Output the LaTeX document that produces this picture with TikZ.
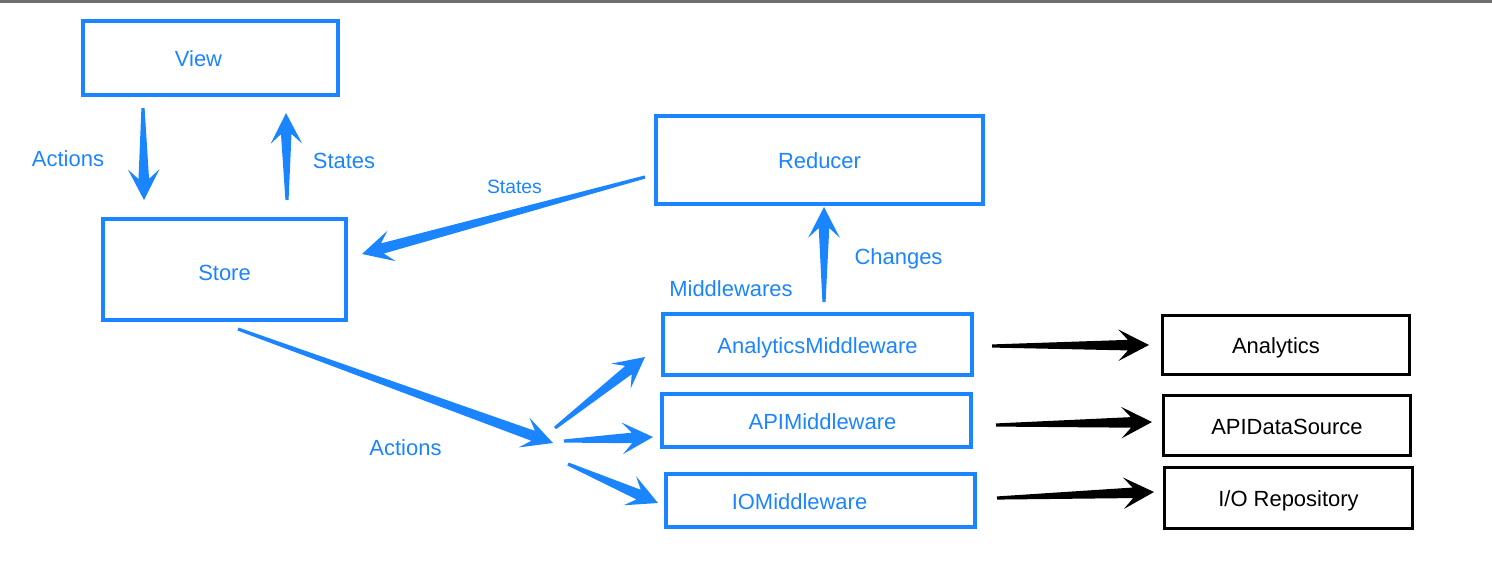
\documentclass[tikz,border=0pt]{standalone}
\usepackage{fontspec}
\setmainfont{Liberation Sans}
\usepackage{tikz}
\usetikzlibrary{calc,positioning}

\definecolor{keyblue}{RGB}{27,133,255}
\definecolor{topgray}{RGB}{110,110,110}

\tikzset{
	bluebox/.style={draw=keyblue, line width=2pt, text=keyblue, minimum width=6.19cm, minimum height=1.07cm, text height=1em, text depth=0pt},
	blackbox/.style={draw=black, line width=1.7pt, text=black, minimum width=4.95cm, minimum height=1.2cm, text height=1em, text depth=0pt},
	flowlabel/.style={text=keyblue, anchor=base}
}

% tapered arrow: thin tail, swept head
\newcommand{\fatarrow}[3][keyblue]{%
	\coordinate (fa-notch) at ($(#3)!12pt!(#2)$);
	\coordinate (fa-wing) at ($(#3)!17.5pt!(#2)$);
	\fill[#1] ($(#2)!0.9pt!90:(#3)$) -- ($(fa-notch)!3pt!90:(#3)$) -- ($(fa-wing)!9pt!90:(#3)$) -- (#3)
		-- ($(fa-wing)!9pt!-90:(#3)$) -- ($(fa-notch)!3pt!-90:(#3)$) -- ($(#2)!0.9pt!-90:(#3)$) -- cycle;
}

\begin{document}
\begin{tikzpicture}[x=0.02cm, y=-0.02cm, font=\fontsize{12.5}{15}\selectfont]
	\useasboundingbox (0,0) rectangle (1492,568);
	\fill[topgray] (0,0) rectangle (1492,3);

	\node[bluebox, minimum width=5.1cm, minimum height=1.49cm] (view) at (210.5,58) {View\hspace*{0.48cm}};
	\node[bluebox, minimum width=4.87cm, minimum height=2.03cm, text height=1.2em] (store) at (224.5,269.5) {Store};
	\node[bluebox, minimum width=6.55cm, minimum height=1.77cm] (reducer) at (819.5,160) {Reducer};

	\node[bluebox, minimum height=1.23cm] (analyticsmw) at (817.5,344.5) {AnalyticsMiddleware};
	\node[bluebox] (apimw) at (816.5,420.5) {\hspace*{0.24cm}APIMiddleware};
	\node[bluebox] (iomw) at (820.5,500.5) {IOMiddleware\hspace*{0.84cm}};

	\node[blackbox, minimum height=1.18cm] (analytics) at (1286,345) {Analytics\hspace*{0.4cm}};
	\node[blackbox] (apidatasource) at (1287,425.5) {APIDataSource};
	\node[blackbox, minimum width=4.96cm, minimum height=1.22cm] (iorepo) at (1288.5,498) {I/O Repository};

	\node[flowlabel] (actionsup) at (68,166) {Actions};
	\node[flowlabel] (statesup) at (344,168) {States};
	\node[flowlabel, font=\fontsize{11}{13}\selectfont] (statesred) at (514.5,193.5) {States};
	\node[flowlabel] (changes) at (898.5,264) {Changes};
	\node[flowlabel] (middlewares) at (731,296) {Middlewares};
	\node[flowlabel] (actionsdown) at (405.5,455) {Actions};

	\coordinate (view-out) at (143,108);
	\coordinate (store-in) at (144,200);
	\coordinate (store-out) at (287,200);
	\coordinate (view-in) at (286,113);
	\coordinate (reducer-out) at (645,177);
	\coordinate (store-right) at (362,254);
	\coordinate (mw-out) at (824,302);
	\coordinate (reducer-in) at (824,207);
	\coordinate (store-down) at (238,329);
	\coordinate (fan) at (553,443);
	\coordinate (fan-a) at (555,428);
	\coordinate (analyticsmw-in) at (645,357);
	\coordinate (fan-b) at (564,441);
	\coordinate (apimw-in) at (653,437);
	\coordinate (fan-c) at (568,464);
	\coordinate (iomw-in) at (658,503);

	\fatarrow{view-out}{store-in}
	\fatarrow{store-out}{view-in}
	\fatarrow{reducer-out}{store-right}
	\fatarrow{mw-out}{reducer-in}
	\fatarrow{store-down}{fan}
	\fatarrow{fan-a}{analyticsmw-in}
	\fatarrow{fan-b}{apimw-in}
	\fatarrow{fan-c}{iomw-in}

	\coordinate (analyticsmw-out) at (992,346);
	\coordinate (analytics-in) at (1149,345);
	\coordinate (apimw-out) at (996,425);
	\coordinate (apidatasource-in) at (1152,422);
	\coordinate (iomw-out) at (997,498);
	\coordinate (iorepo-in) at (1154,492);

	\fatarrow[black]{analyticsmw-out}{analytics-in}
	\fatarrow[black]{apimw-out}{apidatasource-in}
	\fatarrow[black]{iomw-out}{iorepo-in}
\end{tikzpicture}
\end{document}
